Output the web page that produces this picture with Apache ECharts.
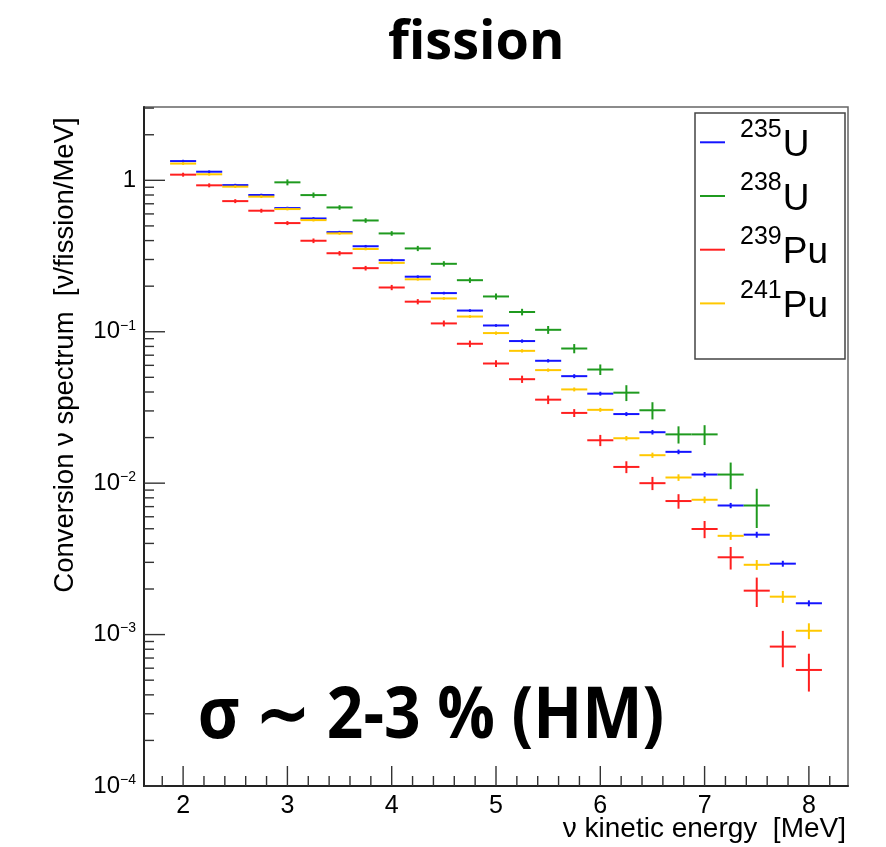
<!DOCTYPE html>
<html>
<head>
<meta charset="utf-8">
<script src="https://cdn.jsdelivr.net/npm/echarts@6/dist/echarts.min.js"></script>
<style>html,body{margin:0;padding:0;background:#fff;}#c{width:886px;height:847px;}</style>
</head>
<body>
<div id="c"></div>
<script>
// ---- data (bin centres in MeV, spectra in nu/fission/MeV, relative errors) ----
const energies = [2, 2.25, 2.5, 2.75, 3, 3.25, 3.5, 3.75, 4, 4.25, 4.5, 4.75, 5, 5.25, 5.5, 5.75, 6, 6.25, 6.5, 6.75, 7, 7.25, 7.5, 7.75, 8];
const binWidth = 0.25;
const u235  = [1.34, 1.14, 0.93, 0.80, 0.656, 0.560, 0.455, 0.367, 0.297, 0.231, 0.180, 0.138, 0.110, 0.0868, 0.0643, 0.0509, 0.0390, 0.0286, 0.0217, 0.0161, 0.0114, 0.00712, 0.00457, 0.00294, 0.00161];
const u238  = [null, null, null, null, 0.970, 0.799, 0.662, 0.543, 0.446, 0.355, 0.281, 0.219, 0.171, 0.135, 0.103, 0.0775, 0.0563, 0.0396, 0.0303, 0.0210, 0.0210, 0.0114, 0.00712, null, null];
const pu239 = [1.09, 0.927, 0.729, 0.630, 0.522, 0.399, 0.330, 0.263, 0.196, 0.158, 0.1135, 0.0833, 0.0617, 0.0486, 0.0356, 0.0291, 0.0192, 0.0128, 0.0100, 0.00762, 0.00498, 0.00324, 0.00195, 0.000833, 0.000584];
const pu241 = [1.29, 1.096, 0.908, 0.780, 0.646, 0.546, 0.446, 0.352, 0.285, 0.222, 0.166, 0.126, 0.098, 0.0748, 0.0558, 0.0416, 0.0305, 0.0198, 0.0153, 0.0109, 0.00777, 0.00449, 0.00289, 0.00178, 0.00106];
const err235 = [0.02, 0.02, 0.02, 0.02, 0.02, 0.02, 0.02, 0.02, 0.02, 0.02, 0.02, 0.02, 0.02, 0.025, 0.025, 0.03, 0.03, 0.03, 0.035, 0.035, 0.04, 0.04, 0.045, 0.045, 0.045];
const err238 = [null, null, null, null, 0.045, 0.04, 0.035, 0.035, 0.035, 0.04, 0.04, 0.04, 0.045, 0.05, 0.06, 0.07, 0.08, 0.12, 0.13, 0.13, 0.15, 0.2, 0.29, null, null];
const err239 = [0.03, 0.03, 0.03, 0.03, 0.03, 0.035, 0.035, 0.035, 0.04, 0.04, 0.045, 0.05, 0.05, 0.055, 0.065, 0.06, 0.085, 0.09, 0.1, 0.11, 0.13, 0.17, 0.22, 0.27, 0.28];
const err241 = [0.02, 0.02, 0.02, 0.02, 0.02, 0.02, 0.02, 0.02, 0.02, 0.02, 0.02, 0.02, 0.025, 0.025, 0.025, 0.03, 0.03, 0.035, 0.04, 0.05, 0.05, 0.06, 0.075, 0.09, 0.12];
const seriesNames = ['235U', '238U', '239Pu', '241Pu'];
const xMajorTicks = [2, 3, 4, 5, 6, 7, 8];
const yMajorTicks = [1e-4, 1e-3, 1e-2, 1e-1, 1];

// ---- axis ranges ----
const X_MIN = 1.625, X_MAX = 8.375, Y_MIN = 1e-4, Y_MAX = 3.05;

const colors = ['#1414ff', '#1f9a1f', '#ff1f1f', '#ffc800'];
const values = [u235, u238, pu239, pu241];
const errors = [err235, err238, err239, err241];

function buildData(vals, errs) {
  const out = [];
  energies.forEach((e, i) => { if (vals[i] != null) out.push([e, vals[i], errs[i]]); });
  return out;
}

function makeRender(color) {
  return function (params, api) {
    const x = api.value(0), y = api.value(1), r = api.value(2);
    const a = api.coord([x - binWidth / 2, y]);
    const b = api.coord([x + binWidth / 2, y]);
    const t = api.coord([x, y * (1 + r)]);
    const d = api.coord([x, y * (1 - r)]);
    const st = { stroke: color, lineWidth: 2 };
    return {
      type: 'group',
      children: [
        { type: 'line', shape: { x1: a[0], y1: a[1], x2: b[0], y2: b[1] }, style: st },
        { type: 'line', shape: { x1: t[0], y1: t[1], x2: d[0], y2: d[1] }, style: st }
      ]
    };
  };
}

// tick marks (ROOT style: inside the frame, on left and bottom)
const xTickData = [];
xMajorTicks.forEach(v => xTickData.push([v, Y_MIN, 1]));
for (let k = 0; k < xMajorTicks.length; k++) {
  for (let j = -4; j <= 4; j++) {
    if (j === 0) continue;
    const v = Math.round((xMajorTicks[k] + j * 0.2) * 1000) / 1000;
    if (j < 0 && k > 0) continue;
    if (v > X_MIN && v < X_MAX && !xTickData.some(p => Math.abs(p[0] - v) < 1e-6)) xTickData.push([v, Y_MIN, 0]);
  }
}
const yTickData = [];
yMajorTicks.forEach(v => {
  yTickData.push([X_MIN, v, 1]);
  for (let m = 2; m <= 9; m++) { const mv = v * m; if (mv < Y_MAX) yTickData.push([X_MIN, mv, 0]); }
});

const tickStyle = { stroke: '#333', lineWidth: 1.4 };

const series = seriesNames.map((n, i) => ({
  name: n,
  type: 'custom',
  renderItem: makeRender(colors[i]),
  encode: { x: 0, y: 1 },
  itemStyle: { color: colors[i] },
  data: buildData(values[i], errors[i]),
  z: 3 + i
}));

series.push({
  type: 'custom', silent: true, z: 10,
  encode: { x: 0, y: 1 },
  renderItem: function (params, api) {
    const p = api.coord([api.value(0), api.value(1)]);
    const len = api.value(2) ? 20 : 10;
    return { type: 'line', shape: { x1: p[0], y1: p[1], x2: p[0], y2: p[1] - len }, style: tickStyle };
  },
  data: xTickData
});
series.push({
  type: 'custom', silent: true, z: 10,
  encode: { x: 0, y: 1 },
  renderItem: function (params, api) {
    const p = api.coord([api.value(0), api.value(1)]);
    const len = api.value(2) ? 21 : 10;
    return { type: 'line', shape: { x1: p[0], y1: p[1], x2: p[0] + len, y2: p[1] }, style: tickStyle };
  },
  data: yTickData
});

const chart = echarts.init(document.getElementById('c'), null, { renderer: 'canvas' });
chart.setOption({
  animation: false,
  backgroundColor: '#ffffff',
  title: {
    text: 'fission', left: 388, top: 17, padding: 0,
    textStyle: { fontFamily: 'Open Sans', fontWeight: 'bold', fontSize: 54, lineHeight: 54, color: '#000' }
  },
  grid: { left: 144, right: 38, top: 107, bottom: 61, show: true, borderColor: '#666', borderWidth: 1.5, containLabel: false },
  xAxis: {
    type: 'value', min: X_MIN, max: X_MAX, minInterval: 1, maxInterval: 1,
    axisLine: { show: true, onZero: false, lineStyle: { color: '#222', width: 2 } },
    axisTick: { show: false }, splitLine: { show: false },
    axisLabel: {
      formatter: v => (Math.abs(v - Math.round(v)) < 1e-9 ? String(Math.round(v)) : ''),
      fontFamily: 'Liberation Sans', fontSize: 25, color: '#000', margin: 8
    }
  },
  yAxis: {
    type: 'log', logBase: 10, min: Y_MIN, max: Y_MAX,
    axisLine: { show: true, onZero: false, lineStyle: { color: '#222', width: 2 } },
    axisTick: { show: false }, splitLine: { show: false },
    axisLabel: {
      margin: 8,
      formatter: function (v) {
        const l = Math.log10(v), e = Math.round(l);
        if (Math.abs(l - e) > 1e-6) return '';
        if (e === 0) return '{b|1}';
        return '{b|10}{s|\u2212' + (-e) + '}';
      },
      rich: {
        b: { fontFamily: 'Liberation Sans', fontSize: 24, lineHeight: 26, color: '#000' },
        s: { fontFamily: 'Liberation Sans', fontSize: 14, lineHeight: 14, verticalAlign: 'top', color: '#000' }
      }
    }
  },
  legend: {
    orient: 'vertical', left: 700, top: 112.3, padding: 0, itemGap: 1.7,
    itemWidth: 25, itemHeight: 2, icon: 'rect', selectedMode: false,
    data: seriesNames,
    formatter: n => '{h|\u200b}{s|' + n.slice(0, 3) + '}{m|' + n.slice(3) + '}',
    textStyle: {
      color: '#000', fontFamily: 'Liberation Sans',
      rich: {
        h: { fontSize: 10, lineHeight: 60, width: 10 },
        s: { fontFamily: 'Liberation Sans', fontSize: 25, lineHeight: 20, verticalAlign: 'top', padding: [5, 1, 0, 0], color: '#000' },
        m: { fontFamily: 'Liberation Sans', fontSize: 37, lineHeight: 40, verticalAlign: 'top', padding: [15, 0, 0, 0], color: '#000' }
      }
    }
  },
  graphic: [
    { type: 'rect', shape: { x: 695, y: 113, width: 150, height: 246 }, style: { fill: null, stroke: '#444', lineWidth: 1.5 }, z: 5 },
    { type: 'text', x: 65, y: 355, rotation: Math.PI / 2,
      style: { text: 'Conversion \u03bd spectrum  [\u03bd/fission/MeV]', fontFamily: 'Liberation Sans', fontSize: 27.5, fill: '#000', align: 'center', verticalAlign: 'middle' } },
    { type: 'text', x: 846, y: 829,
      style: { text: '\u03bd kinetic energy  [MeV]', fontFamily: 'Liberation Sans', fontSize: 28, fill: '#000', align: 'right', verticalAlign: 'middle' } },
    { type: 'text', x: 431, y: 718, scaleY: 1.12,
      style: { text: '\u03c3 \u223c 2-3 % (HM)', fontFamily: 'Open Sans', fontWeight: 'bold', fontSize: 64, fill: '#000', align: 'center', verticalAlign: 'middle' } }
  ],
  series: series
});
</script>
</body>
</html>
